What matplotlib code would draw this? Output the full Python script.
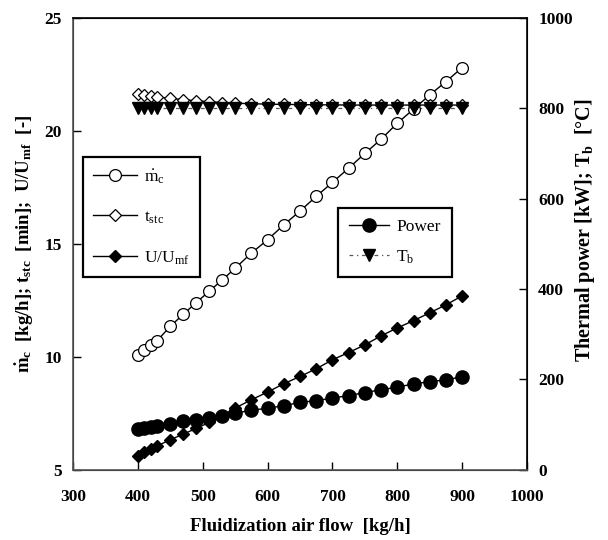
import matplotlib
matplotlib.use("Agg")
import matplotlib.pyplot as plt

plt.rcParams['font.family'] = ['Liberation Serif', 'DejaVu Serif']
plt.rcParams['mathtext.fontset'] = 'custom'
plt.rcParams['mathtext.rm'] = 'Liberation Serif'
plt.rcParams['mathtext.it'] = 'Liberation Serif'
plt.rcParams['mathtext.bf'] = 'Liberation Serif:bold'

# air flow [kg/h]
air_flow = [400, 410, 420, 430, 450, 470, 490, 510, 530, 550, 575, 600,
            625, 650, 675, 700, 725, 750, 775, 800, 825, 850, 875, 900]

# left axis series
m_c = [10.1, 10.32, 10.53, 10.72, 11.35, 11.88, 12.4, 12.9, 13.4, 13.92, 14.59, 15.18,
       15.84, 16.45, 17.1, 17.72, 18.35, 19.0, 19.63, 20.34, 20.96, 21.59, 22.18, 22.8]
t_stc = [21.64, 21.58, 21.54, 21.5, 21.43, 21.38, 21.33, 21.29, 21.25, 21.22, 21.2, 21.18,
         21.17, 21.16, 21.15, 21.15, 21.14, 21.14, 21.14, 21.14, 21.14, 21.14, 21.14, 21.14]
u_umf = [5.59, 5.77, 5.92, 6.06, 6.33, 6.58, 6.83, 7.1, 7.4, 7.73, 8.1, 8.44,
         8.81, 9.13, 9.47, 9.87, 10.19, 10.53, 10.93, 11.28, 11.6, 11.95, 12.3, 12.7]

# right axis series
power = [90, 92, 94, 96, 102, 107, 111, 114, 119, 125, 132, 136,
         142, 149, 153, 159, 164, 171, 177, 183, 190, 195, 199, 206]
t_b = [800] * len(air_flow)

x_ticks = [300, 400, 500, 600, 700, 800, 900, 1000]
left_ticks = [5, 10, 15, 20, 25]
right_ticks = [0, 200, 400, 600, 800, 1000]

fig = plt.figure(figsize=(6.08, 5.40), dpi=100)
ax = fig.add_axes([0.12, 0.13, 0.747, 0.837])
ax2 = ax.twinx()

l1, = ax.plot(air_flow, m_c, color='black', lw=1, marker='o', ms=8.5,
              mfc='white', mec='black', mew=0.9, label=r'$\dot{\rm m}_{\rm c}$')
l2, = ax.plot(air_flow, t_stc, color='black', lw=1, marker='D', ms=6.5,
              mfc='white', mec='black', mew=0.9, label=r't$_{\rm stc}$')
l3, = ax.plot(air_flow, u_umf, color='black', lw=1, marker='D', ms=6.5,
              mfc='black', mec='black', label=r'U/U$_{\rm mf}$')

r1, = ax2.plot(air_flow, power, color='black', lw=1, marker='o', ms=9.5,
               mfc='black', mec='black', label='Power')
r2, = ax2.plot(air_flow, t_b, color='#555555', lw=0.9, ls=(0, (3, 3, 1, 3)),
               marker='v', ms=8.5, mfc='black', mec='black', label=r'T$_{\rm b}$')

ax.set_xlim(300, 1000)
ax.set_ylim(5, 25)
ax2.set_ylim(0, 1000)
ax.set_xticks(x_ticks)
ax.set_yticks(left_ticks)
ax2.set_yticks(right_ticks)

for a in (ax, ax2):
    a.tick_params(direction='in', length=6, width=1, labelsize=12.5)
    for lab in a.get_xticklabels() + a.get_yticklabels():
        lab.set_fontweight('bold')
ax.tick_params(axis='x', pad=14)
ax.tick_params(axis='y', pad=8)
ax2.tick_params(axis='y', pad=8)

for s in ax2.spines.values():
    s.set_linewidth(1.2)
ax2.spines['left'].set_color('#555555')
ax2.spines['bottom'].set_color('#555555')

ax.set_xlabel('Fluidization air flow  [kg/h]', fontsize=13.5, fontweight='bold', labelpad=9)
ax.set_ylabel(r'$\mathbf{\dot{m}}_{\mathbf{c}}$  [kg/h]; t$_{\mathbf{stc}}$  [min];  U/U$_{\mathbf{mf}}$  [-]',
              fontsize=13.5, fontweight='bold', labelpad=6)
ax2.set_ylabel(r'Thermal power [kW]; T$_{\mathbf{b}}$  [°C]', fontsize=14.5,
               fontweight='bold', labelpad=4)
ax2.yaxis.set_label_coords(1.10, 0.53)

leg1 = ax.legend(handles=[l1, l2, l3], loc='upper left', bbox_to_anchor=(0.022, 0.692),
                 fontsize=12.5, frameon=True, fancybox=False, framealpha=1,
                 edgecolor='black', handlelength=2.5, labelspacing=1.35,
                 borderpad=0.6, handletextpad=0.4, borderaxespad=0)
leg1.get_frame().set_linewidth(1.6)
leg2 = ax2.legend(handles=[r1, r2], loc='lower left', bbox_to_anchor=(0.584, 0.427),
                  fontsize=12.5, frameon=True, fancybox=False, framealpha=1,
                  edgecolor='black', handlelength=2.3, labelspacing=0.75,
                  borderpad=0.65, handletextpad=0.4, borderaxespad=0)
leg2.get_frame().set_linewidth(1.6)

fig.savefig('out.png', dpi=100)
